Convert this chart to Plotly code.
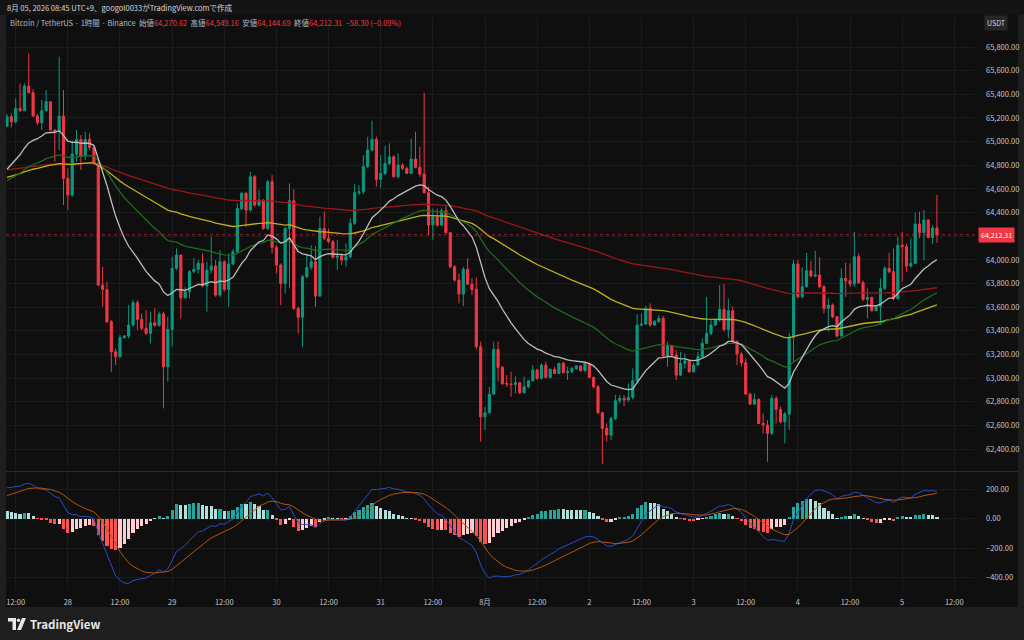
import numpy as np
import pandas as pd
import plotly.graph_objects as go

# BTC/USDT 1h candles (Binance), first candle 2026-07-27 10:00 UTC+9
start = pd.Timestamp("2026-07-27 10:00")
first_open = 65132

closes = [
    65211, 65168, 65281, 65261, 65470, 65414, 65216, 65160, 65261, 65337,
    65098, 65084, 65216, 64689, 64548, 64895, 65019, 64878, 65019, 64951,
    64816, 63787, 63750, 63477, 63223, 63181, 63342, 63356, 63449, 63638,
    63497, 63421, 63378, 63468, 63446, 63542, 63096, 63412, 63928, 64041,
    63680, 63731, 63900, 63920, 63970, 63779, 63914, 63948, 63702, 63984,
    63750, 63965, 64069, 64435, 64562, 64421, 64703, 64464, 64506, 64266,
    64661, 64106, 63956, 63801, 64266, 64500, 63590, 63514, 63858, 63937,
    63984, 63694, 64266, 64182, 64154, 64021, 64032, 63998, 64027, 64309,
    64568, 64576, 64788, 64929, 65019, 64681, 64731, 64816, 64872, 64703,
    64802, 64774, 64731, 64853, 64782, 64726, 64568, 64294, 64365, 64294,
    64416, 64230, 63942, 63829, 63711, 63920, 63795, 63750, 63266, 62673,
    62707, 62865, 63243, 63091, 62955, 62950, 62947, 62961, 62876, 62927,
    62978, 63068, 62998, 63110, 63006, 63074, 63040, 63125, 63046, 63054,
    63082, 63102, 63063, 63125, 63006, 62927, 62707, 62575, 62518, 62659,
    62809, 62829, 62815, 62837, 62978, 63449, 63457, 63590, 63449, 63477,
    63505, 63187, 63271, 63195, 63026, 63125, 63147, 63054, 63110, 63181,
    63294, 63378, 63449, 63491, 63581, 63412, 63570, 63308, 63204, 63130,
    62865, 62781, 62820, 62617, 62603, 62533, 62829, 62735, 62631, 62696,
    63344, 63965, 63688, 63773, 63908, 63863, 63872, 63773, 63590, 63618,
    63519, 63356, 63843, 63824, 63796, 64027, 63807, 63666, 63683, 63570,
    63604, 63759, 63928, 63900, 63674, 64125, 64111, 63948, 63970, 64303,
    64230, 64337, 64190, 64270.62, 64212.31,
]

highs = [
    65233, 65239, 65366, 65492, 65492, 65746, 65442, 65233, 65352, 65436,
    65343, 65104, 65718, 65436, 64774, 65013, 65098, 65056, 65084, 65070,
    64971, 64830, 63942, 63815, 63491, 63251, 63364, 63364, 63618, 63660,
    63660, 63547, 63576, 63562, 63590, 63562, 63562, 63519, 64027, 64097,
    64041, 63773, 63914, 64013, 63998, 64055, 63984, 64196, 63998, 64083,
    63998, 64055, 64089, 64478, 64576, 64576, 64746, 64717, 64590, 64511,
    64675, 64717, 64125, 63970, 64280, 64647, 64596, 63604, 63872, 64055,
    64125, 64117, 64365, 64407, 64266, 64168, 64168, 64055, 64139, 64351,
    64641, 64633, 64886, 65041, 65177, 65041, 64886, 64963, 64985, 64886,
    64901, 64816, 64788, 65027, 65084, 64957, 65414, 64619, 64435, 64435,
    64435, 64464, 64238, 63956, 63886, 63942, 64013, 63843, 63852, 63308,
    62758, 62927, 63308, 63308, 63102, 63026, 63054, 63017, 62968, 63012,
    62984, 63110, 63082, 63125, 63139, 63082, 63096, 63130, 63139, 63096,
    63096, 63110, 63110, 63130, 63130, 63012, 62941, 62716, 62617, 62673,
    62857, 62857, 62857, 62955, 63082, 63542, 63547, 63610, 63632, 63491,
    63533, 63525, 63308, 63280, 63237, 63223, 63209, 63158, 63130, 63223,
    63336, 63688, 63491, 63505, 63787, 63796, 63674, 63604, 63322, 63223,
    63167, 62876, 62871, 62829, 62702, 62645, 62857, 62848, 62758, 62716,
    63384, 63998, 63998, 63937, 64060, 63993, 64077, 64021, 63787, 63674,
    63632, 63525, 63928, 63976, 63970, 64238, 64055, 63824, 63759, 63688,
    63610, 63843, 63948, 64060, 64097, 64196, 64238, 64134, 64182, 64399,
    64407, 64421, 64342, 64294, 64549.16,
]

lows = [
    65120, 65120, 65154, 65253, 65261, 65408, 65211, 65140, 65098, 65253,
    65092, 64830, 64929, 64464, 64421, 64534, 64830, 64760, 64844, 64929,
    64802, 63779, 63604, 63463, 63054, 63110, 63167, 63336, 63336, 63435,
    63407, 63407, 63364, 63294, 63435, 63435, 62744, 62970, 63266, 63914,
    63505, 63674, 63674, 63886, 63886, 63767, 63562, 63886, 63688, 63688,
    63731, 63604, 63956, 64055, 64421, 64280, 64407, 64449, 64449, 64252,
    64252, 64055, 63886, 63618, 63717, 63759, 63576, 63378, 63266, 63843,
    63914, 63604, 63688, 64168, 64139, 64013, 63914, 63956, 63942, 64013,
    64294, 64548, 64557, 64774, 64915, 64619, 64605, 64717, 64802, 64698,
    64689, 64760, 64726, 64726, 64774, 64703, 64562, 64210, 64173, 64280,
    64289, 64224, 63928, 63815, 63632, 63609, 63787, 63702, 63243, 62462,
    62561, 62702, 62857, 62970, 62941, 62927, 62843, 62871, 62865, 62871,
    62913, 62970, 62984, 62989, 62998, 62998, 63034, 63040, 63040, 62984,
    63040, 63068, 63054, 63054, 62998, 62913, 62696, 62273, 62462, 62476,
    62645, 62786, 62764, 62800, 62820, 62961, 63435, 63449, 63435, 63440,
    63468, 63181, 63096, 63187, 62984, 63017, 63082, 63046, 63046, 63102,
    63167, 63288, 63364, 63440, 63477, 63392, 63336, 63294, 63110, 63096,
    62857, 62772, 62772, 62611, 62533, 62293, 62518, 62617, 62617, 62448,
    62561, 63139, 63674, 63674, 63767, 63852, 63852, 63759, 63547, 63392,
    63505, 63344, 63350, 63688, 63773, 63773, 63796, 63655, 63505, 63562,
    63570, 63449, 63745, 63886, 63660, 63660, 63815, 63900, 63937, 63965,
    64182, 63998, 64182, 64134, 64144.69,
]

# moving-average values read at the first candle (period: value)
ema_seeds = {20: 64766, 50: 64669, 100: 64698, 200: 64760}
ema_colors = {20: "#bdbdbd", 50: "#1d6b1d", 100: "#bdb01c", 200: "#9c1818"}
# MACD(12, 26, 9) state at the first candle
macd_fast_seed = 64960
macd_slow_seed = 64749
macd_signal_seed = 157

price_ticks = list(range(62400, 66000, 200))
macd_ticks = [-400, -200, 0, 200]

UP = "#089981"
DOWN = "#f23645"
GRID = "#1b1b1b"
TXT = "#c3c6ce"
FONT = "Noto Sans CJK JP, Noto Sans, sans-serif"

n = len(closes)
times = pd.date_range(start, periods=n, freq="h")
opens = [first_open] + closes[:-1]
last_close = closes[-1]


def ema(values, period, seed):
    a = 2 / (period + 1)
    out = [seed]
    for v in values[1:]:
        out.append(out[-1] + a * (v - out[-1]))
    return np.array(out)


fast = ema(closes, 12, macd_fast_seed)
slow = ema(closes, 26, macd_slow_seed)
macd = fast - slow
signal = [macd_signal_seed]
for m in macd[1:]:
    signal.append(signal[-1] + 0.2 * (m - signal[-1]))
signal = np.array(signal)
hist = macd - signal

hist_colors = []
for k, h in enumerate(hist):
    prev = hist[k - 1] if k else h + 1
    if h >= 0:
        hist_colors.append("#26a69a" if h > prev else "#b2dfdb")
    else:
        hist_colors.append("#ff5252" if h < prev else "#ffcdd2")


# pixel -> paper helpers (plot area: x 6..975, y 17..590)
def px(x):
    return (x - 6) / 969


def py(y):
    return (590 - y) / 573


fig = go.Figure()

for p in [200, 100, 50, 20]:
    fig.add_trace(go.Scatter(
        x=times, y=ema(closes, p, ema_seeds[p]), mode="lines",
        line=dict(color=ema_colors[p], width=1.3), xaxis="x", yaxis="y",
        hoverinfo="skip", showlegend=False))

fig.add_trace(go.Candlestick(
    x=times, open=opens, high=highs, low=lows, close=closes,
    increasing=dict(line=dict(color=UP, width=1), fillcolor=UP),
    decreasing=dict(line=dict(color=DOWN, width=1), fillcolor=DOWN),
    whiskerwidth=0, xaxis="x", yaxis="y", showlegend=False))

fig.add_trace(go.Bar(
    x=times, y=hist, marker=dict(color=hist_colors, line=dict(width=0)),
    width=0.72 * 3600 * 1000, xaxis="x2", yaxis="y2", showlegend=False))
fig.add_trace(go.Scatter(
    x=times, y=macd, mode="lines", line=dict(color="#2a4bc4", width=1),
    xaxis="x2", yaxis="y2", showlegend=False))
fig.add_trace(go.Scatter(
    x=times, y=signal, mode="lines", line=dict(color="#b8530a", width=1),
    xaxis="x2", yaxis="y2", showlegend=False))

tick_times = pd.date_range("2026-07-27 12:00", "2026-08-05 12:00", freq="12h")
tick_text = []
for t in tick_times:
    if t.hour == 12:
        tick_text.append("12:00")
    elif t.day == 1:
        tick_text.append(f"{t.month}月")
    else:
        tick_text.append(str(t.day))
tick_vals = [t.strftime("%Y-%m-%d %H:%M") for t in tick_times]

# the last-price tag hides the tick label next to it
price_text = ["" if abs(v - last_close) < 60 else f"{v:,.2f}" for v in price_ticks]

x_range = [start - pd.Timedelta(minutes=14), start + pd.Timedelta(hours=222.76)]

axis_common = dict(showline=False, zeroline=False, gridcolor=GRID, gridwidth=1,
                   tickfont=dict(family=FONT, size=7.5, color=TXT), ticks="")

fig.update_layout(
    width=1024, height=640,
    margin=dict(l=6, r=49, t=17, b=50),
    paper_bgcolor="#1e1e1e", plot_bgcolor="#0f0f0f",
    font=dict(family=FONT, color=TXT),
    bargap=0, hovermode=False,
    xaxis=dict(domain=[0, 1], anchor="y", range=x_range, tickvals=tick_vals,
               showticklabels=False, rangeslider=dict(visible=False),
               **axis_common),
    xaxis2=dict(domain=[0, 1], anchor="y2", range=x_range, tickvals=tick_vals,
                ticktext=tick_text, ticklabelstandoff=6, **axis_common),
    yaxis=dict(domain=[py(470), 1], anchor="x", side="right",
               range=[62223, 66054], tickvals=price_ticks, ticktext=price_text,
               ticklabelstandoff=10, **axis_common),
    yaxis2=dict(domain=[0, py(473)], anchor="x2", side="right",
                range=[-486, 311], tickvals=macd_ticks, tickformat=".2f",
                ticklabelstandoff=10, **axis_common),
)

shapes = [
    # chart panel and header strip
    dict(type="rect", xref="paper", yref="paper", x0=px(0), x1=px(1024),
         y0=py(15), y1=py(0), fillcolor="#141414", line=dict(width=0), layer="below"),
    dict(type="rect", xref="paper", yref="paper", x0=px(6), x1=px(1018),
         y0=py(607), y1=py(15), fillcolor="#0f0f0f", line=dict(width=0), layer="below"),
    # pane separator
    dict(type="line", xref="paper", yref="paper", x0=px(6), x1=px(1018),
         y0=py(471.5), y1=py(471.5), line=dict(color="#2a2a2a", width=1)),
    # last price line
    dict(type="line", xref="paper", yref="y", x0=0, x1=1, y0=last_close, y1=last_close,
         line=dict(color=DOWN, width=1, dash="dot"), opacity=0.6),
    # MACD zero line
    dict(type="line", xref="paper", yref="y2", x0=0, x1=1, y0=0, y1=0,
         line=dict(color="#4a4a4a", width=1, dash="dash"), layer="below"),
]


# TradingView logo
def pth(points):
    return "M " + " L ".join(f"{px(x):.5f},{py(y):.5f}" for x, y in points) + " Z"


shapes += [
    dict(type="path", xref="paper", yref="paper",
         path=pth([(8, 618), (16, 618), (16, 630), (12.5, 630), (12.5, 621.5), (8, 621.5)]),
         fillcolor="#e8e8e8", line=dict(width=0)),
    dict(type="circle", xref="paper", yref="paper", x0=px(16.8), x1=px(20.2),
         y0=py(622), y1=py(618.6), fillcolor="#e8e8e8", line=dict(width=0)),
    dict(type="path", xref="paper", yref="paper",
         path=pth([(22, 618), (26, 618), (21, 630), (17, 630)]),
         fillcolor="#e8e8e8", line=dict(width=0)),
]
fig.update_layout(shapes=shapes)


def red(s):
    return f'<span style="color:{DOWN}">{s}</span>'


sp = "\u00a0\u00a0"
title = ("Bitcoin / TetherUS · 1時間 · Binance" + sp + "始値" + red("64,270.62") + sp +
         "高値" + red("64,549.16") + sp + "安値" + red("64,144.69") + sp +
         "終値" + red("64,212.31") + sp + red("−58.30 (−0.09%)"))

annotations = [
    dict(text="8月 05, 2026 08:45 UTC+9、googol0033がTradingView.comで作成",
         x=px(5), y=py(7.5), xanchor="left", yanchor="middle",
         font=dict(family=FONT, size=7.5, color="#d8d8d8")),
    dict(text=title, x=px(8), y=py(22.5), xanchor="left", yanchor="middle",
         font=dict(family=FONT, size=7.5, color="#b8bbc3")),
    dict(text="USDT", x=px(996), y=py(22.5), xanchor="center", yanchor="middle",
         font=dict(family=FONT, size=7, color="#d8d8d8"), bgcolor="#262626",
         borderpad=2),
    dict(text=f"{last_close:,.2f}", x=px(978), xref="paper", y=last_close, yref="y",
         xanchor="left", yanchor="middle", bgcolor=DOWN, borderpad=2,
         font=dict(family=FONT, size=7, color="#ffffff")),
    dict(text="<b>TradingView</b>", x=px(28), y=py(624), xanchor="left",
         yanchor="middle", font=dict(family=FONT, size=11.5, color="#e8e8e8")),
]
for a in annotations:
    a.setdefault("xref", "paper")
    a.setdefault("yref", "paper")
    a["showarrow"] = False
fig.update_layout(annotations=annotations)

# the page's default body margin would shift the 1024x640 figure
fig.write_html("out.html", config={"displayModeBar": False},
               post_script="document.body.style.margin='0';")
